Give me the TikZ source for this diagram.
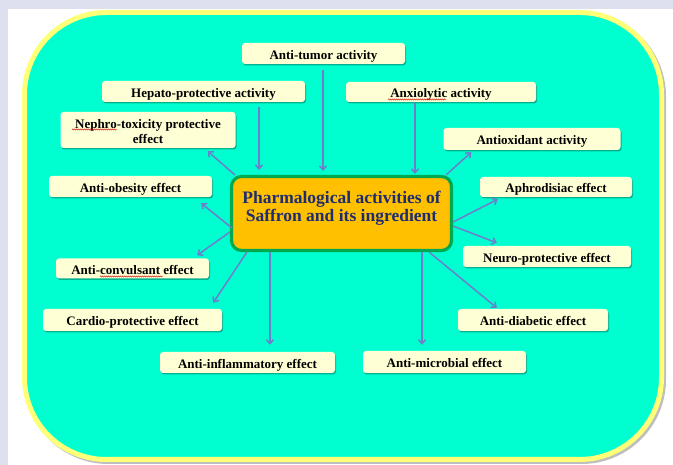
\documentclass[tikz,border=0pt]{standalone}
\usepackage{fontspec}
\setmainfont{Liberation Serif}
\usetikzlibrary{arrows.meta,shadows,decorations.pathmorphing}
\definecolor{lav}{RGB}{222,224,240}
\definecolor{cyanbg}{RGB}{0,255,208}
\definecolor{yel}{RGB}{255,255,120}
\definecolor{cream}{RGB}{255,255,213}
\definecolor{orng}{RGB}{255,192,0}
\definecolor{grn}{RGB}{0,168,80}
\definecolor{navy}{RGB}{31,45,110}
\definecolor{arrc}{RGB}{108,126,204}
\begin{document}
\begin{tikzpicture}[x=1pt,y=-1pt,
  box/.style={fill=cream, rounded corners=3pt, inner sep=0pt, align=center,
    font=\bfseries\fontsize{13}{14.5}\selectfont,
    drop shadow={shadow xshift=1pt,shadow yshift=-1.5pt,fill=black,opacity=0.3}},
  one/.style={box, text height=11.5pt, text depth=0pt},
  centre/.style={fill=orng, draw=grn, line width=3.2pt, rounded corners=10pt, inner sep=0pt,
    align=center, text=navy, font=\bfseries\fontsize{17.5}{17.5}\selectfont,
    minimum width=220pt, minimum height=74pt},
  arr/.style={draw=arrc, line width=1.5pt, -{Straight Barb[length=4pt,width=7pt]}},
  squig/.style={draw=red!80!black, line width=0.4pt, decorate,
    decoration={snake, amplitude=0.6pt, segment length=2pt}}]
\useasboundingbox (0,0) rectangle (673,465);
\fill[lav] (0,0) rectangle (673,465);
\fill[white] (8,9) rectangle (673,465);
% main rounded panel
\draw[black!25, line width=5pt, rounded corners=82pt] (26.5,14.5) rectangle (663.5,461.5);
\draw[yel, fill=cyanbg, line width=5pt, rounded corners=82pt] (24.5,12.5) rectangle (661.5,459.5);

% centre
\node[centre] (c) at (341.5,213.5) {Pharmalogical activities of\\Saffron and its ingredient\\[-3pt]\mbox{}};

% boxes
\node[one, minimum width=163pt, minimum height=21pt] (tum) at (323.5,53.5) {Anti-tumor activity};
\node[one, minimum width=203pt, minimum height=21pt] (hep) at (203.5,91.5) {Hepato-protective activity};
\node[one, minimum width=190pt, minimum height=20pt] (anx) at (441,92) {Anxiolytic activity};
\node[box, minimum width=175pt, minimum height=36pt] (nep) at (148,130) {\rule{0pt}{12.5pt}Nephro-toxicity protective\\effect};
\node[one, minimum width=177pt, minimum height=22pt] (aox) at (532,139) {Antioxidant activity};
\node[one, minimum width=163pt, minimum height=21pt] (obe) at (130.5,186.5) {Anti-obesity effect};
\node[one, minimum width=152pt, minimum height=20pt] (aph) at (556,187) {Aphrodisiac effect};
\node[one, minimum width=168pt, minimum height=21pt] (neu) at (547,256.5) {Neuro-protective effect};
\node[one, minimum width=153pt, minimum height=20pt] (con) at (132.5,268.5) {Anti-convulsant effect};
\node[one, minimum width=179pt, minimum height=22pt] (car) at (132.5,320) {Cardio-protective effect};
\node[one, minimum width=150pt, minimum height=22pt] (dia) at (533,320) {Anti-diabetic effect};
\node[one, minimum width=175pt, minimum height=21pt] (inf) at (247.5,362.5) {Anti-inflammatory effect};
\node[one, minimum width=163pt, minimum height=22pt] (mic) at (444.5,362) {Anti-microbial effect};

% spell-check squiggles
\draw[squig] (72,129.5) -- (117,129.5);
\draw[squig] (388,99.5) -- (446,99.5);
\draw[squig] (100,276.5) -- (163,276.5);

% arrows into the centre
\draw[arr, shorten <=5pt, shorten >=5pt] ([xshift=55.5pt]hep.south) -- ([xshift=55.5pt]hep.south |- c.north);
\draw[arr, shorten <=6pt, shorten >=4pt] ([xshift=-0.5pt]tum.south) -- ([xshift=-0.5pt]tum.south |- c.north);
\draw[arr, shorten <=1pt, shorten >=1pt] ([xshift=-26pt]anx.south) -- ([xshift=-26pt]anx.south |- c.north);

% arrows out of the centre
\draw[arr] ([xshift=5pt]c.north west) -- ([xshift=-28pt,yshift=-3pt]nep.south east);
\draw[arr] ([xshift=-7pt]c.north east) -- ([xshift=28pt,yshift=-2pt]aox.south west);
\draw[arr] ([xshift=2pt,yshift=-14.5pt]c.west) -- ([xshift=-11pt,yshift=-6pt]obe.south east);
\draw[arr] ([yshift=-18.5pt]c.west) -- ([xshift=-12pt,yshift=3pt]con.north east);
\draw[arr] ([xshift=17pt]c.south west) -- ([xshift=-9pt,yshift=6pt]car.north east);
\draw[arr, shorten >=7pt] ([xshift=40pt]c.south west) -- ([xshift=40pt]c.south west |- inf.north);
\draw[arr, shorten >=6pt] ([xshift=-31pt]c.south east) -- ([xshift=-31pt]c.south east |- mic.north);
\draw[arr] ([xshift=-24pt]c.south east) -- ([xshift=39pt,yshift=1pt]dia.north west);
\draw[arr] ([yshift=-8.5pt]c.east) -- ([xshift=18pt,yshift=-2pt]aph.south west);
\draw[arr] ([yshift=-12.5pt]c.east) -- ([xshift=34pt,yshift=3pt]neu.north west);
\end{tikzpicture}
\end{document}
